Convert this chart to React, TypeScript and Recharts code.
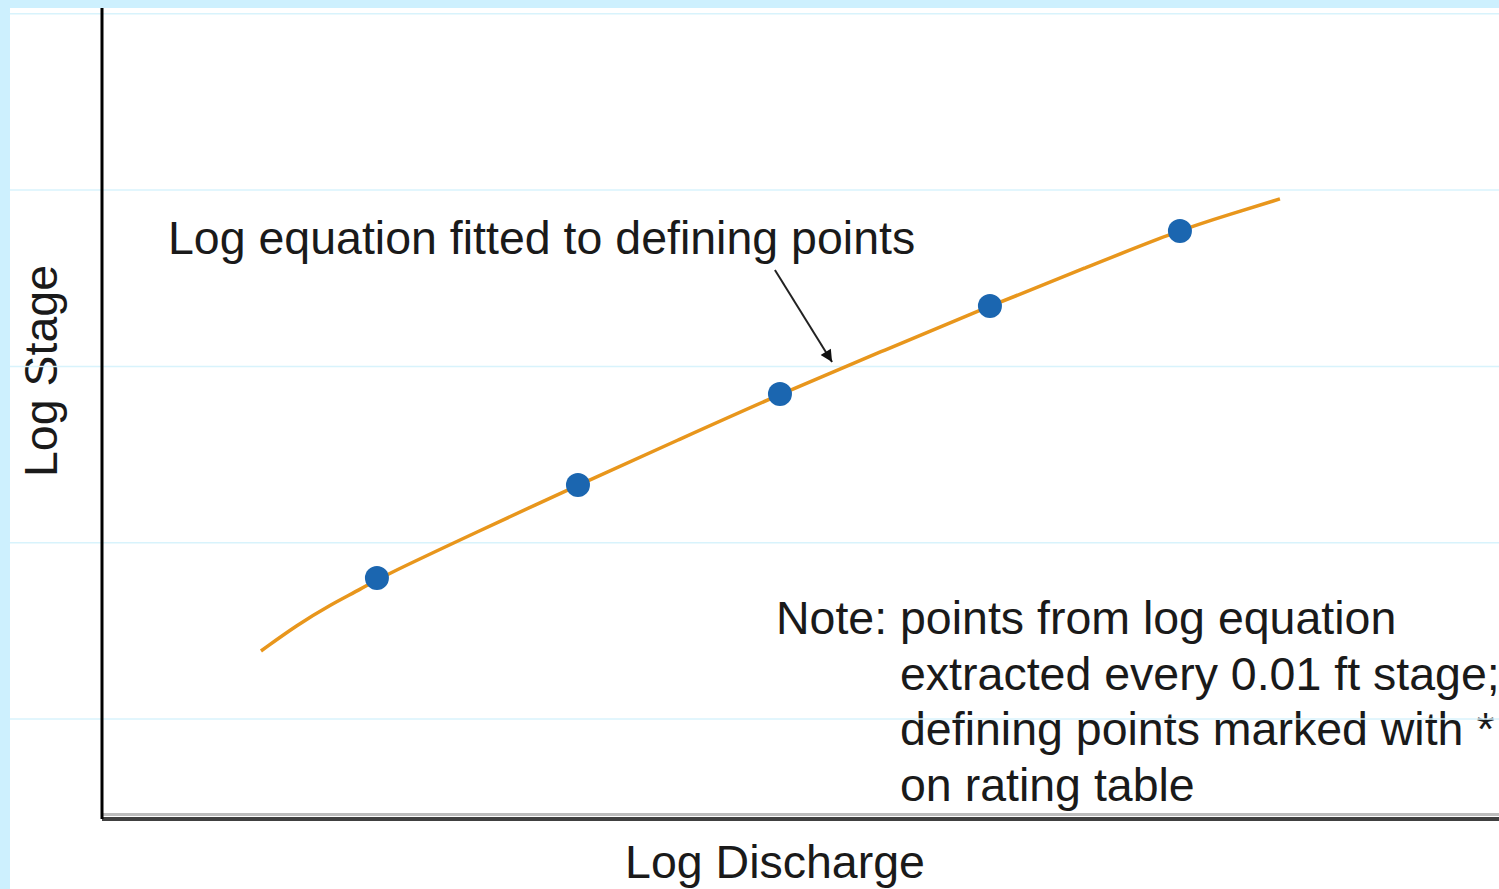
import { ComposedChart, Line, Scatter, XAxis, YAxis, ReferenceLine } from 'recharts';

// fitted log equation, sampled along the curve (log discharge, log stage)
const curveX = [11.38, 13.96, 16.32, 18.68, 19.68, 26.84, 34.07, 41.3, 48.53, 56.05, 63.56, 70.36, 77.16, 80.74, 84.32];
const curveY = [0.386, 0.533, 0.647, 0.743, 0.794, 1.061, 1.327, 1.585, 1.843, 2.093, 2.343, 2.558, 2.774, 2.862, 2.95];

// defining points
const pointX = [19.68, 34.07, 48.53, 63.56, 77.16];
const pointY = [0.8, 1.327, 1.843, 2.343, 2.768];

const stageTicks = [0, 1, 2, 3, 4];

const noteLines = [
  'points from log equation',
  'extracted every 0.01 ft stage;',
  'defining points marked with *',
  'on rating table',
];

const curve = curveX.map((x, i) => ({ x, y: curveY[i] }));
const points = pointX.map((x, i) => ({ x, y: pointY[i] }));

const font = { fontFamily: '"Liberation Sans", Arial, sans-serif', fontSize: 46.5, fill: '#1a1a1a' };

const Dot = (props: any) => <circle cx={props.cx} cy={props.cy} r={12} fill="#1b66b0" />;

export default function App() {
  return (
    <div style={{ position: 'absolute', left: 0, top: 0, width: 1499, height: 889, background: '#cdf0fe', overflow: 'hidden' }}>
      <div style={{ position: 'absolute', left: 10, top: 8, width: 1489, height: 881, background: '#ffffff' }}>
        <ComposedChart width={1489} height={881} margin={{ top: 0, right: 0, left: 0, bottom: 0 }}>
          <defs>
            <marker id="arrowHead" viewBox="0 0 10 10" refX="10" refY="5" markerWidth="8" markerHeight="6" markerUnits="strokeWidth" orient="auto">
              <path d="M0,0 L10,5 L0,10 z" fill="#111" />
            </marker>
          </defs>
          {/* faint horizontal grid, runs out past the y axis to the frame edge */}
          {stageTicks.map((t) => (
            <ReferenceLine
              key={t}
              segment={[{ x: -6.6, y: t }, { x: 100, y: t }]}
              ifOverflow="visible"
              stroke="#d8f3fc"
              strokeWidth={1.5}
            />
          ))}
          <XAxis
            type="number"
            dataKey="x"
            domain={[0, 100]}
            height={70}
            tick={false}
            tickLine={false}
            axisLine={{ stroke: '#404040', strokeWidth: 4 }}
          />
          <YAxis
            type="number"
            dataKey="y"
            domain={[-0.567, 4.033]}
            ticks={stageTicks}
            width={92}
            tick={false}
            tickLine={false}
            axisLine={{ stroke: '#000000', strokeWidth: 3 }}
          />
          <ReferenceLine y={-0.5417} stroke="#bdbdbd" strokeWidth={3} />
          <Line data={curve} dataKey="y" type="basis" stroke="#e8961c" strokeWidth={3.5} dot={false} isAnimationActive={false} />
          <Scatter data={points} dataKey="y" shape={Dot} isAnimationActive={false} />
          <ReferenceLine
            segment={[{ x: 48.17, y: 2.547 }, { x: 52.26, y: 2.025 }]}
            stroke="#222"
            strokeWidth={2}
            markerEnd="url(#arrowHead)"
          />
          <text x={158} y={246} {...font}>Log equation fitted to defining points</text>
          <text x={766} y={626} {...font}>Note:</text>
          {noteLines.map((line, i) => (
            <text key={line} x={890} y={626 + i * 55.5} {...font}>{line}</text>
          ))}
          <text x={765} y={870} textAnchor="middle" {...font}>Log Discharge</text>
          <text x={47} y={363} textAnchor="middle" transform="rotate(-90 47 363)" {...font}>Log Stage</text>
        </ComposedChart>
      </div>
    </div>
  );
}
